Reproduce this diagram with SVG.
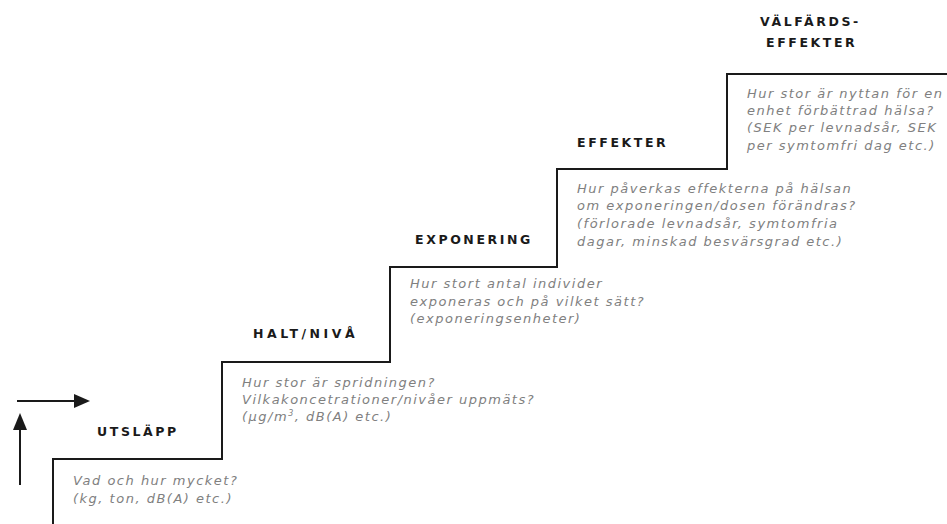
<svg xmlns="http://www.w3.org/2000/svg" width="947" height="524" viewBox="0 0 947 524">
<style>
.h{font-family:"DejaVu Sans",Verdana,sans-serif;font-weight:bold;font-size:12.5px;fill:#1a1a1a;letter-spacing:2.6px}
.t{font-family:"DejaVu Sans",Verdana,sans-serif;font-style:italic;font-size:13px;fill:#808080;letter-spacing:1.5px}
.stair{fill:none;stroke:#1a1a1a;stroke-width:2}
.ar{stroke:#1a1a1a;stroke-width:2;fill:none}
.ah{fill:#1a1a1a}
</style>
<rect width="947" height="524" fill="#fff"/>
<g id="connectors">
<path class="stair" d="M53,524 V459 H222 V362 H390 V267 H557 V169 H727 V74 H947"/>
<line class="ar" x1="17" y1="401" x2="77" y2="401"/>
<polygon class="ah" points="74,394 90,401 74,408"/>
<line class="ar" x1="20" y1="485" x2="20" y2="428"/>
<polygon class="ah" points="13,430 20,413 27,430"/>
</g>
<g id="utslapp">
<text class="h" x="97" y="436">UTSLÄPP</text>
<text class="t" x="73" y="485">Vad och hur mycket?</text>
<text class="t" x="73" y="503">(kg, ton, dB(A) etc.)</text>
</g>
<g id="halt">
<text class="h" x="253" y="338" style="letter-spacing:3.5px">HALT/NIVÅ</text>
<text class="t" x="242" y="387">Hur stor är spridningen?</text>
<text class="t" x="242" y="404">Vilkakoncetrationer/nivåer uppmäts?</text>
<text class="t" x="242" y="421">(µg/m<tspan font-size="8" dy="-5">3</tspan><tspan dy="5">, dB(A) etc.)</tspan></text>
</g>
<g id="exponering">
<text class="h" x="415" y="244">EXPONERING</text>
<text class="t" x="410" y="288">Hur stort antal individer</text>
<text class="t" x="410" y="306">exponeras och på vilket sätt?</text>
<text class="t" x="410" y="323">(exponeringsenheter)</text>
</g>
<g id="effekter">
<text class="h" x="577" y="147">EFFEKTER</text>
<text class="t" x="577" y="193">Hur påverkas effekterna på hälsan</text>
<text class="t" x="577" y="210">om exponeringen/dosen förändras?</text>
<text class="t" x="577" y="228">(förlorade levnadsår, symtomfria</text>
<text class="t" x="577" y="246">dagar, minskad besvärsgrad etc.)</text>
</g>
<g id="valfard">
<text class="h" x="760" y="26">VÄLFÄRDS-</text>
<text class="h" x="766" y="47">EFFEKTER</text>
<text class="t" x="747" y="98">Hur stor är nyttan för en</text>
<text class="t" x="747" y="115">enhet förbättrad hälsa?</text>
<text class="t" x="747" y="132">(SEK per levnadsår, SEK</text>
<text class="t" x="747" y="150">per symtomfri dag etc.)</text>
</g>
</svg>
